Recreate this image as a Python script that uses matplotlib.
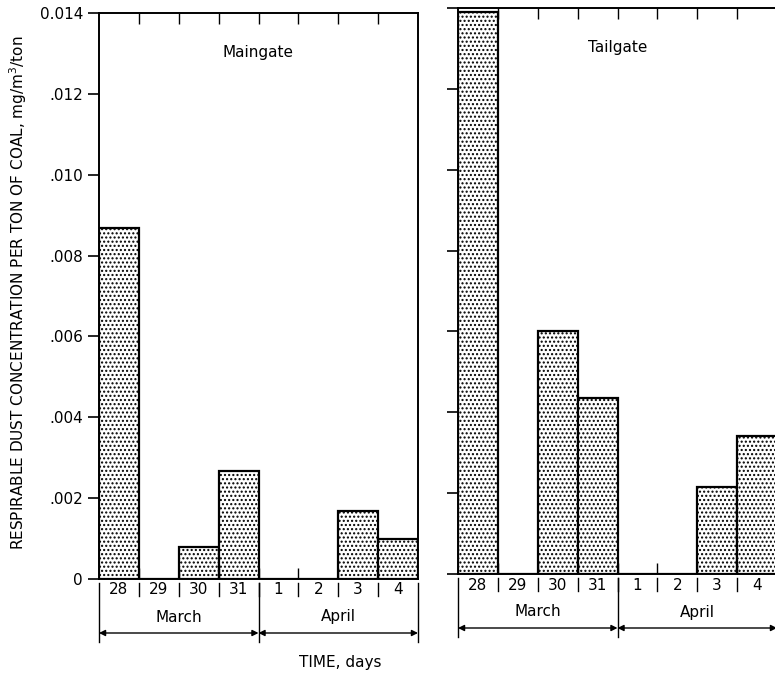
import numpy as np
import matplotlib.pyplot as plt
from matplotlib import transforms

# データ
days = ['28', '29', '30', '31', '1', '2', '3', '4']
months = ['March', 'April']
month_span = [(0, 4), (4, 8)]
maingate = [0.00867, 0.0, 0.0008, 0.00268, 0.0, 0.0, 0.00168, 0.00099]
tailgate = [0.0139, 0.0, 0.0060, 0.00436, 0.0, 0.0, 0.00216, 0.00342]
yticks = [0, 0.002, 0.004, 0.006, 0.008, 0.010, 0.012, 0.014]
ytick_labels = ['0', '.002', '.004', '.006', '.008', '.010', '.012', '0.014']

plt.rcParams['font.family'] = ['DejaVu Sans']
plt.rcParams['hatch.linewidth'] = 1.0


def draw_panel(ax, values, title, show_labels):
    """1枚分のグラフを描く関数"""
    x = np.arange(len(days))
    ax.bar(x, values, width=1.0, color='white', edgecolor='black',
           linewidth=1.6, hatch='....')
    ax.set_xlim(-0.5, len(days) - 0.5)
    ax.set_ylim(0, 0.014)

    for s in ax.spines.values():
        s.set_linewidth(1.4)

    # y軸
    ax.set_yticks(yticks)
    if show_labels:
        ax.set_yticklabels(ytick_labels, fontsize=11)
    else:
        ax.set_yticklabels([])
    ax.tick_params(axis='y', direction='out', length=8, width=1.2, right=False)

    # x軸（上下に内向きの目盛り）
    bounds = np.arange(0.5, len(days) - 0.5, 1.0)
    ax.set_xticks(bounds)
    ax.set_xticklabels([])
    ax.tick_params(axis='x', direction='in', length=8, width=1.0,
                   top=True, bottom=True)

    ax.text(0.5, 0.93, title, transform=ax.transAxes, ha='center',
            va='center', fontsize=11)

    # 下の日付と月の表示
    h = ax.get_window_extent().height
    tr = transforms.blended_transform_factory(ax.transData, ax.transAxes)

    def fy(px):
        return -px / h

    for i, d in enumerate(days):
        ax.text(i, fy(11), d, transform=tr, ha='center', va='center',
                fontsize=11)
    for b in bounds:
        ax.plot([b, b], [fy(4), fy(17)], transform=tr, color='black',
                lw=1.0, clip_on=False)
    for name, (a, b) in zip(months, month_span):
        ax.text((a + b) / 2 - 0.5, fy(38), name, transform=tr, ha='center',
                va='center', fontsize=11)
        ax.annotate('', xy=(a - 0.5, fy(54)), xytext=(b - 0.5, fy(54)),
                    xycoords=tr, textcoords=tr,
                    arrowprops=dict(arrowstyle='<|-|>', color='black',
                                    lw=1.0, mutation_scale=9,
                                    shrinkA=0, shrinkB=0))
    for e in [-0.5, 3.5, 7.5]:
        ax.plot([e, e], [fy(4), fy(63)], transform=tr, color='black',
                lw=1.0, clip_on=False)


fig = plt.figure(figsize=(7.75, 6.73), dpi=100)
ax1 = fig.add_axes([99 / 775, 1 - 579 / 673, 319 / 775, 566 / 673])
ax2 = fig.add_axes([458 / 775, 1 - 574 / 673, 319 / 775, 566 / 673])

draw_panel(ax1, maingate, 'Maingate', True)
draw_panel(ax2, tailgate, 'Tailgate', False)

fig.text(18 / 775, 1 - 293 / 673,
         'RESPIRABLE DUST CONCENTRATION PER TON OF COAL, mg/m$^3$/ton',
         rotation=90, ha='center', va='center', fontsize=11)
fig.text(340 / 775, 1 - 662 / 673, 'TIME, days', ha='center', va='center',
         fontsize=11)

fig.savefig('out.png', dpi=100)
